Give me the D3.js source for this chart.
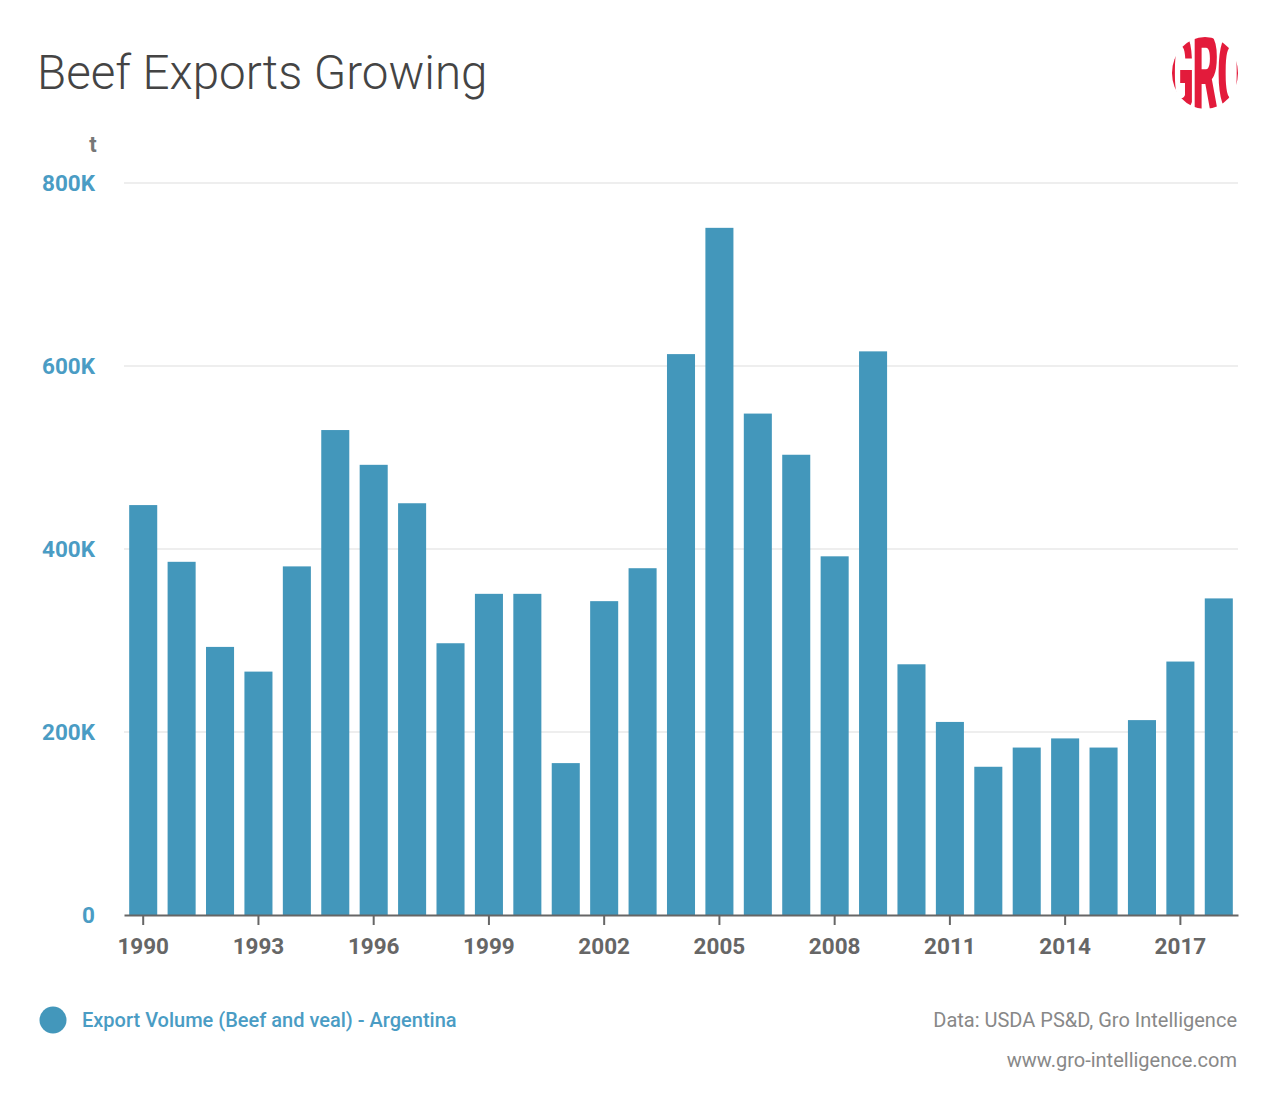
<!DOCTYPE html>
<html><head><meta charset="utf-8">
<script src="https://cdn.jsdelivr.net/npm/d3@7"></script>
<style>body{margin:0;background:#fff;} svg{display:block;font-family:Roboto,"Noto Sans",sans-serif;}</style>
</head><body>
<svg id="chart" width="1280" height="1111"></svg>
<script>
const years = [1990,1991,1992,1993,1994,1995,1996,1997,1998,1999,2000,2001,2002,2003,2004,2005,2006,2007,2008,2009,2010,2011,2012,2013,2014,2015,2016,2017,2018];
const exportVolume = [448000,386000,293000,266000,381000,530000,492000,450000,297000,351000,351000,166000,343000,379000,613000,751000,548000,503000,392000,616000,274000,211000,162000,183000,193000,183000,213000,277000,346000];
const yTicks = [0,200000,400000,600000,800000];
const xTickYears = [1990,1993,1996,1999,2002,2005,2008,2011,2014,2017];
const seriesName = "Export Volume (Beef and veal) - Argentina";

(function () {
const svg = d3.select("#chart");
const mLeft = 124, mRight = 1238, mTop = 183, mBottom = 915;
const barColor = "#4397bb";

const x = d3.scaleBand().domain(years).range([mLeft, mRight]).paddingInner(0.27).paddingOuter(0.135);
const y = d3.scaleLinear().domain([0, 800000]).range([mBottom, mTop]);

// title
svg.append("text").attr("x", 37).attr("y", 89).attr("font-size", 47.5).attr("font-weight", 300)
  .attr("fill", "#444").text("Beef Exports Growing");

// logo
const defs = svg.append("defs");
defs.append("clipPath").attr("id", "logoClip").append("ellipse").attr("cx", 1205).attr("cy", 73).attr("rx", 33).attr("ry", 36);
const logo = svg.append("g").attr("clip-path", "url(#logoClip)");
logo.append("text").attr("x", 1205).attr("y", 112).attr("text-anchor", "middle")
  .attr("font-size", 112).attr("font-weight", 900).attr("fill", "#e31b3b")
  .attr("transform", "translate(1205,0) scale(0.36,1) translate(-1205,0)")
  .attr("letter-spacing", -4).text("GRO");

// grid
svg.append("g").selectAll("line").data(yTicks.filter(d => d > 0)).join("line")
  .attr("x1", mLeft).attr("x2", mRight).attr("y1", d => y(d)).attr("y2", d => y(d))
  .attr("stroke", "#e9e9e9").attr("stroke-width", 1.5);

// y labels
const fmt = d => d === 0 ? "0" : (d / 1000) + "K";
svg.append("g").selectAll("text").data(yTicks).join("text")
  .attr("x", 95).attr("y", d => y(d) + 8).attr("text-anchor", "end")
  .attr("font-size", 22.5).attr("font-weight", 700).attr("fill", "#4a9cc4").text(fmt);
svg.append("text").attr("x", 93).attr("y", 152).attr("text-anchor", "middle")
  .attr("font-size", 22).attr("font-weight", 700).attr("fill", "#777").text("t");

// bars
svg.append("g").selectAll("rect").data(years).join("rect")
  .attr("x", d => x(d)).attr("width", x.bandwidth())
  .attr("y", (d, i) => y(exportVolume[i])).attr("height", (d, i) => mBottom - y(exportVolume[i]))
  .attr("fill", barColor);

// x axis
const xAxis = d3.axisBottom(x).tickValues(xTickYears).tickSize(10).tickSizeOuter(0).tickPadding(13);
const gx = svg.append("g").attr("transform", `translate(0,${mBottom})`).call(xAxis);
gx.select(".domain").attr("stroke", "#666").attr("stroke-width", 2);
gx.selectAll(".tick line").attr("stroke", "#666").attr("stroke-width", 2);
gx.selectAll(".tick text").attr("font-size", 22.5).attr("font-weight", 700).attr("fill", "#666")
  .attr("font-family", "Roboto, sans-serif");

// legend
svg.append("circle").attr("cx", 53).attr("cy", 1020).attr("r", 13.5).attr("fill", barColor);
svg.append("text").attr("x", 82).attr("y", 1027).attr("font-size", 20).attr("font-weight", 500)
  .attr("fill", "#4a9cc4").text(seriesName);

// source
svg.append("text").attr("x", 1237).attr("y", 1027).attr("text-anchor", "end").attr("font-size", 20)
  .attr("fill", "#888").text("Data: USDA PS&D, Gro Intelligence");
svg.append("text").attr("x", 1237).attr("y", 1067).attr("text-anchor", "end").attr("font-size", 20)
  .attr("fill", "#888").text("www.gro-intelligence.com");
})();
</script>
</body></html>
